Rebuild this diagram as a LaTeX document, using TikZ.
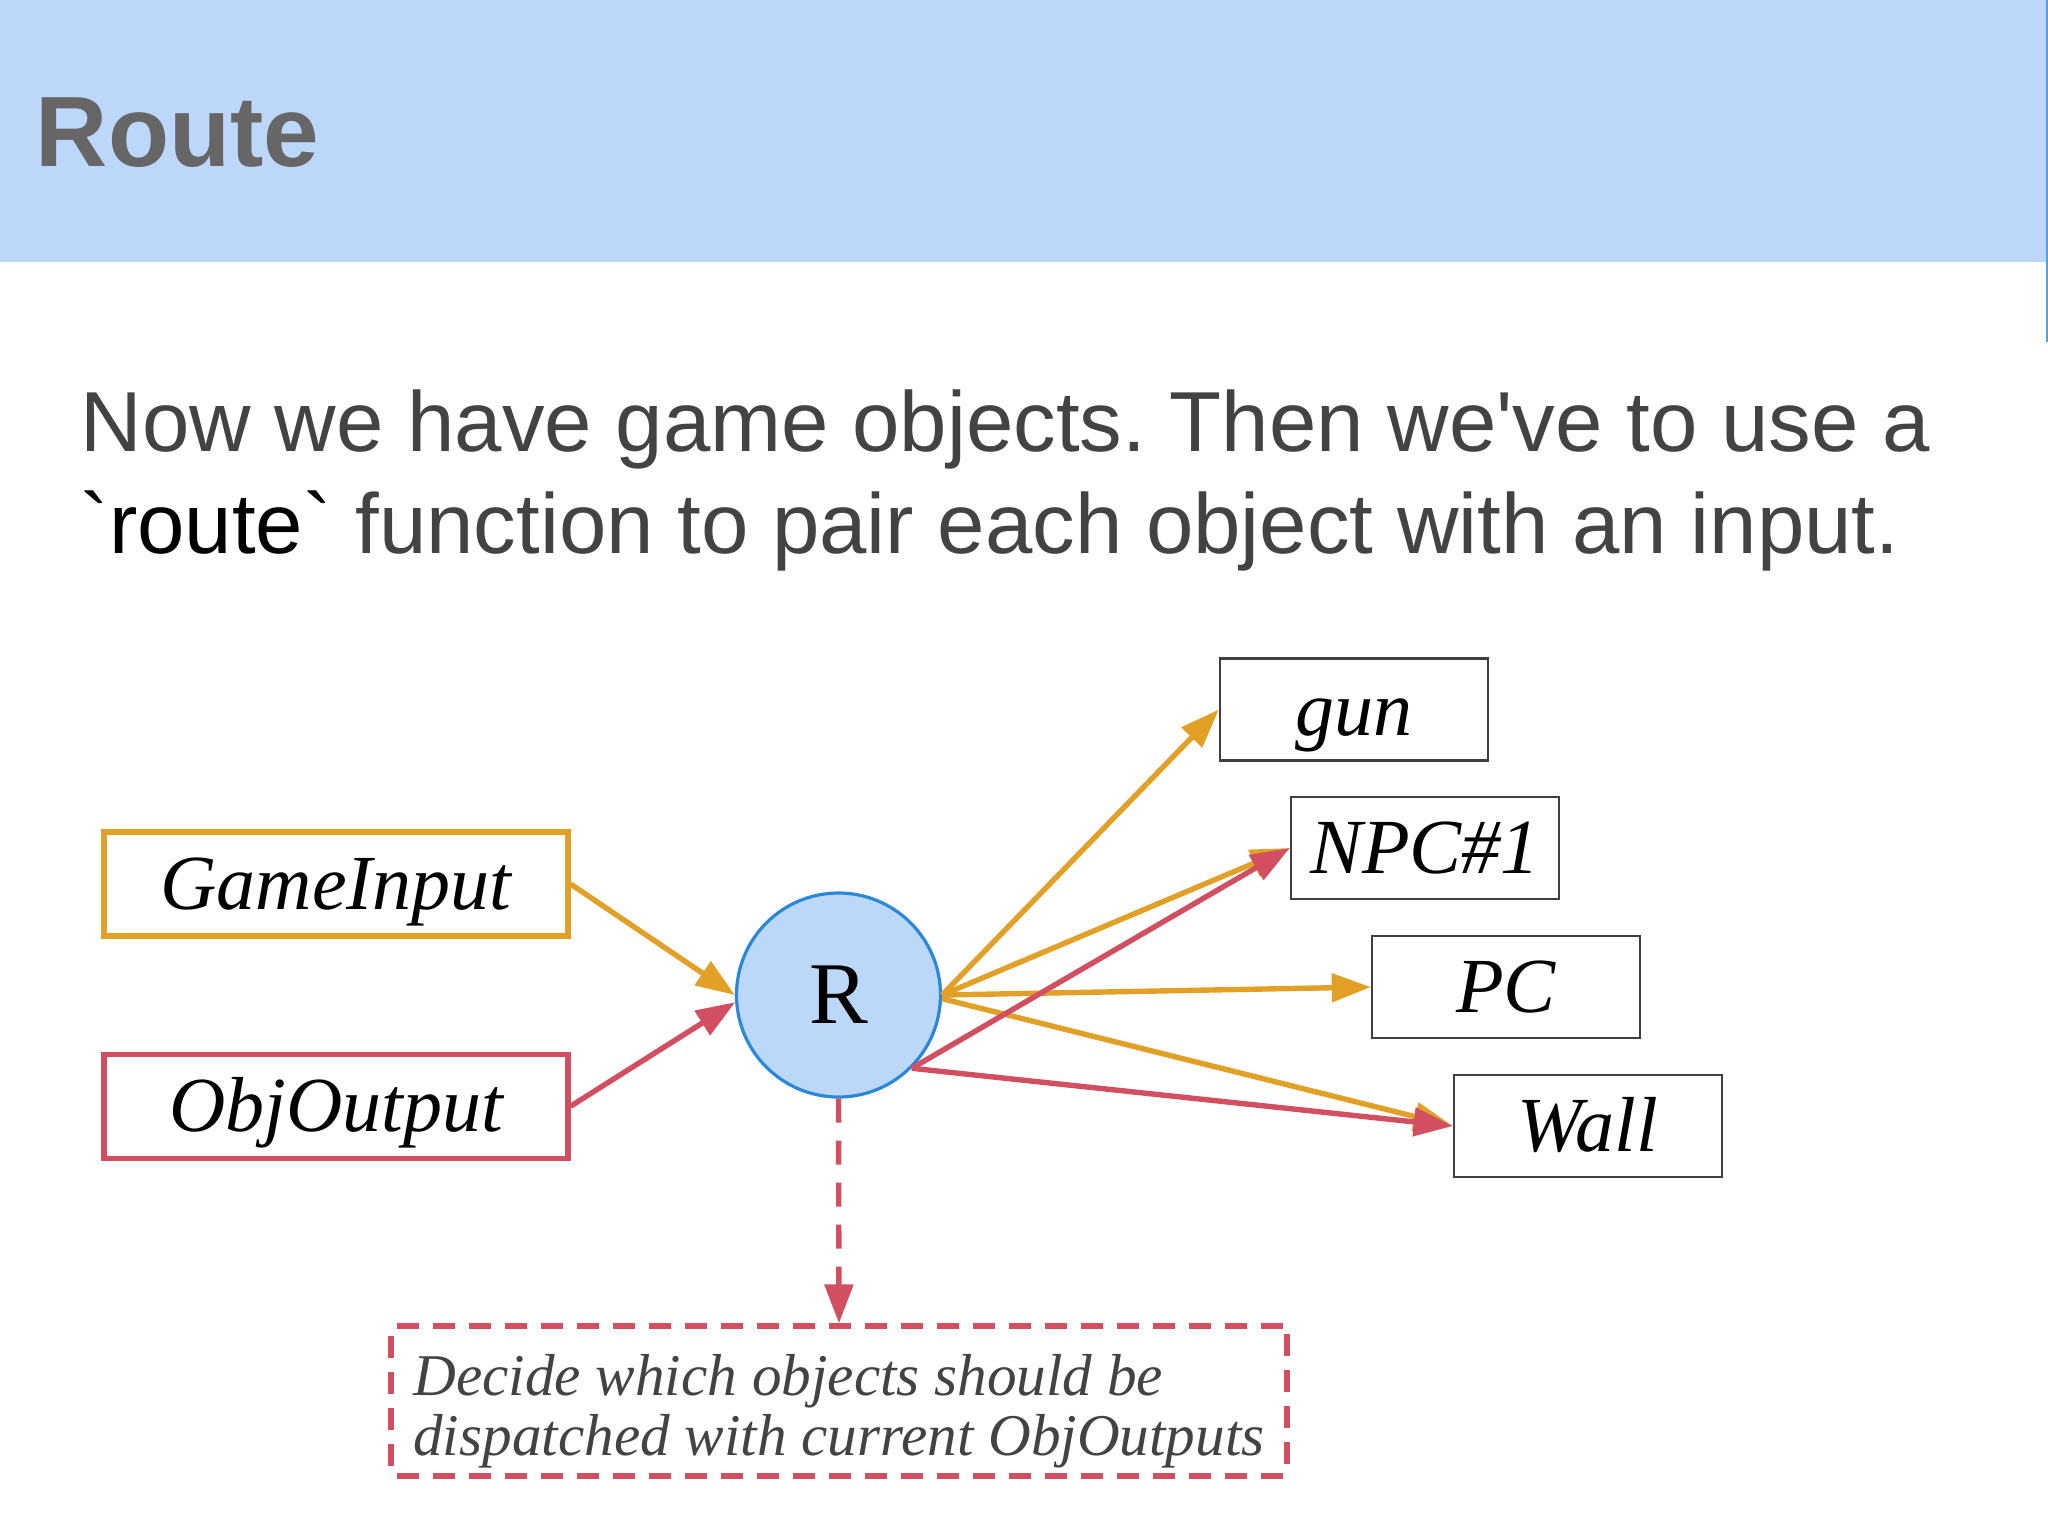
\documentclass[tikz,border=0pt]{standalone}
\usepackage{fontspec}
\setmainfont{Liberation Serif}
\newfontfamily\bodyfont{Liberation Sans}[Ligatures=TeXOff]
\usepackage{tikz}
\usetikzlibrary{arrows.meta,positioning}
\definecolor{headerblue}{HTML}{BCD7F9}
\definecolor{titlegray}{HTML}{666666}
\definecolor{bodygray}{HTML}{434343}
\definecolor{inorange}{HTML}{E2A126}
\definecolor{outred}{HTML}{D14F60}
\definecolor{routefill}{HTML}{BCD8F8}
\definecolor{routeedge}{HTML}{2B88D8}
\frenchspacing

\begin{document}
\begin{tikzpicture}[
 x=0.25pt,y=-0.25pt,
 srcbox/.style={draw,line width=1.3pt,fill=white,minimum width=116pt,minimum height=26pt,inner sep=0pt,text height=14pt,text depth=1.2pt,font=\fontsize{19.5}{22}\selectfont\itshape},
 objbox/.style={draw=black!75,line width=0.6pt,fill=white,minimum width=67pt,minimum height=25.5pt,inner sep=0pt,text height=14pt,text depth=1.2pt,font=\fontsize{19.5}{22}\selectfont\itshape},
 router/.style={circle,draw=routeedge,line width=0.8pt,fill=routefill,minimum size=51pt,inner sep=0pt,font=\fontsize{22}{24}\selectfont},
 notebox/.style={draw=outred,dash pattern=on 5.5pt off 3.5pt,line width=1.3pt,rounded corners=1pt,minimum width=224pt,minimum height=37.5pt,inner sep=0pt,text=bodygray,font=\fontsize{14.8}{15}\selectfont\itshape},
 feed/.style={-{Triangle[length=9.75pt,width=7pt]},line width=1.35pt}
]
\useasboundingbox (0,0) rectangle (2048,1536);
% slide header
\fill[headerblue] (0,0) rectangle (2048,262);
\draw[routeedge!80,line width=0.4pt] (2047,0) -- (2047,342);
\node[anchor=base west,inner sep=0pt,text=titlegray,font=\bodyfont\bfseries\fontsize{25}{30}\selectfont] (title) at (35,166) {Route};
\node[anchor=base west,inner sep=0pt,text=bodygray,font=\bodyfont\fontsize{21.3}{25.5}\selectfont] (intro1) at (80,451) {Now we have game objects. Then we've to use a};
\node[anchor=base west,inner sep=0pt,text=bodygray,font=\bodyfont\fontsize{21.3}{25.5}\selectfont] (intro2) at (80,553) {{\color{black}`route`} function to pair each object with an input.};
% inputs and router
\node[srcbox,draw=inorange] (gameinput) at (336,884) {GameInput};
\node[srcbox,draw=outred,below=28.25pt of gameinput] (objoutput) {ObjOutput};
\node[router] (router) at (838.5,995) {R};
% game objects
\node[objbox] (gun) at (1354,709.5) {gun};
\node[objbox] (npc) at (1425,848) {NPC\#1};
\node[objbox] (pc) at (1506,987) {PC};
\node[objbox] (wall) at (1588,1126) {Wall};
\node[notebox] (decide) at (839,1401) {\raisebox{-3pt}[\height][\depth]{\begin{tabular}{@{}l@{}}Decide which objects should be\\dispatched with current ObjOutputs\end{tabular}}};
% connectors
\draw[feed,inorange] (gameinput.east) -- (router.west);
\draw[feed,outred] (objoutput.east) -- (router.184);
\draw[feed,inorange] (router.east) -- (gun.west);
\draw[feed,inorange] (router.east) -- (npc.west);
\draw[feed,inorange] (router.east) -- (pc.west);
\draw[feed,inorange] (router.-2) -- (wall.west);
\draw[feed,outred] (router.-45) -- (npc.west);
\draw[feed,outred] (router.-45) -- (wall.west);
\draw[feed,outred,dash pattern=on 6pt off 4.5pt] (router.south) -- (decide.north);
\end{tikzpicture}
\end{document}
